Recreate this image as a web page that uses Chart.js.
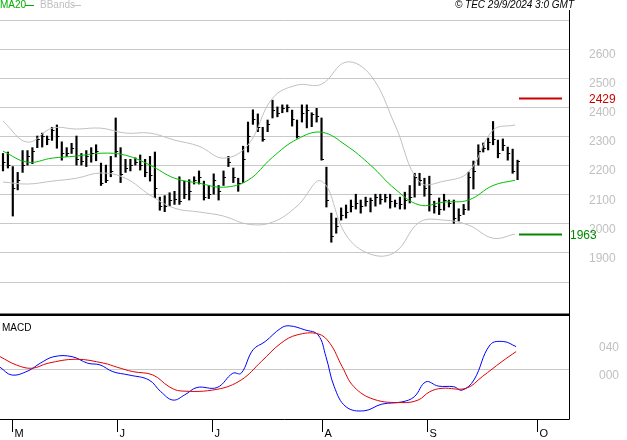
<!DOCTYPE html>
<html><head><meta charset="utf-8">
<script src="https://cdn.jsdelivr.net/npm/chart.js@4"></script>
<style>body{margin:0;background:#fff;width:627px;height:440px;overflow:hidden;position:relative}
#w1{position:absolute;left:0;top:0;width:627px;height:316px}
#w2{position:absolute;left:0;top:316px;width:627px;height:124px}</style>
</head><body>
<div id="w1"><canvas id="c1"></canvas></div>
<div id="w2"><canvas id="c2"></canvas></div>
<script>
const highs=[2240,2245,2195,2175,2250,2250,2260,2300,2310,2300,2330,2338,2280,2260,2275,2300,2240,2250,2260,2270,2207,2200,2230,2362,2260,2220,2220,2225,2235,2220,2230,2245,2090,2095,2105,2110,2160,2145,2150,2160,2180,2145,2130,2170,2130,2180,2230,2190,2155,2265,2348,2390,2376,2330,2355,2423,2400,2407,2407,2389,2355,2407,2407,2380,2395,2362,2193,2035,2018,2053,2063,2080,2100,2080,2090,2087,2100,2100,2100,2100,2080,2090,2107,2130,2172,2172,2155,2162,2076,2087,2100,2080,2080,2050,2065,2176,2214,2270,2276,2293,2350,2286,2290,2262,2255,2217];
const lows=[2180,2190,2025,2115,2175,2200,2205,2260,2262,2270,2285,2258,2217,2230,2240,2200,2200,2195,2210,2215,2130,2140,2160,2228,2140,2175,2180,2200,2183,2160,2145,2088,2045,2040,2060,2065,2065,2085,2080,2135,2135,2080,2085,2100,2080,2130,2195,2140,2110,2140,2245,2340,2315,2282,2315,2362,2366,2380,2383,2334,2293,2348,2328,2332,2348,2217,2056,1935,1966,2011,2018,2039,2049,2035,2059,2039,2059,2066,2073,2052,2056,2049,2049,2070,2090,2130,2093,2042,2035,2030,2045,2056,2000,2008,2030,2045,2118,2200,2245,2252,2270,2225,2250,2217,2172,2150];
const closes=[2210,2200,2120,2150,2200,2230,2250,2290,2300,2290,2320,2300,2240,2240,2260,2220,2215,2230,2240,2250,2140,2150,2180,2250,2170,2190,2200,2210,2200,2175,2165,2120,2060,2060,2080,2085,2075,2100,2110,2150,2160,2090,2100,2150,2110,2160,2210,2160,2140,2220,2300,2360,2330,2290,2340,2390,2380,2395,2400,2360,2300,2380,2390,2375,2370,2222,2080,1955,1990,2030,2040,2060,2070,2060,2075,2080,2090,2085,2090,2075,2070,2065,2080,2090,2160,2150,2120,2100,2060,2050,2080,2070,2020,2030,2050,2160,2180,2250,2260,2280,2290,2240,2270,2240,2180,2215];
const bandIdx=[0,5,10,15,20,25,30,35,40,45,50,55,60,65,70,75,80,85,90,95,100,104.5];
const ma20=[2248,2210,2224,2231,2241,2234,2200,2155,2138,2124,2148,2227,2289,2313,2268,2200,2118,2063,2073,2080,2130,2148];
const bbUpper=[2351,2279,2327,2324,2327,2310,2310,2286,2265,2224,2269,2430,2475,2478,2554,2509,2338,2142,2145,2176,2320,2338];
const bbLower=[2142,2135,2145,2155,2173,2155,2097,2052,2039,2025,1997,2004,2059,2145,1960,1894,1901,2004,2011,1994,1949,1963];
const macdIdx=[-0.6,1.8,5.1,7.6,10.4,14.1,17.3,19.8,22.4,25.7,29.8,32.2,34.7,37.1,39.6,43.7,46.9,48.6,51,53.5,56.7,58.4,61.6,64.3,65.9,67.6,70,73.7,77.3,81.4,83.9,86.3,88.8,92,93.7,96.1,99.4,102.2,104.7];
const macdVal=[2.9,-8.2,-2.4,8.6,18,18,8.6,6.2,-3.4,-8.2,-15.3,-32,-44,-36.5,-26,-26,-5.7,-5.7,27.6,39.5,58.6,62,56.2,49,18,-25,-53.6,-59.3,-49.8,-46.6,-39.4,-18,-24,-25,-29.8,-15.3,34.8,39.5,32.3];
const sigIdx=[-0.6,2.7,5.9,9.2,14.9,20.6,23.3,26.5,30.6,33.9,36.3,43.7,48.6,52.7,56.7,60,64.3,66.7,69.2,71.6,75.7,81.4,84.7,87.1,89.6,94.5,97.8,101.8,104.7];
const sigVal=[18,6.2,1.4,8.6,14.3,8.6,2.9,-3.4,-8.2,-24.9,-31,-28.6,-15.3,10.9,37.1,49,50.5,37.1,3.9,-24.9,-43,-47.6,-44,-32,-27.2,-27.2,-10.5,10.9,25.2];
const priceGrid=[1800,1900,2000,2100,2200,2300,2400,2500,2600,2700];
const priceLabels=[1900,2000,2100,2200,2300,2400,2500,2600];
const macdLabels=[{v:40,t:'040'},{v:0,t:'000'}];
const monthTickIdx=[1.84,23.3,42.7,65.1,86.5,109];
const monthNames=['M','J','J','A','S','O'];
const resistance=2429, support=1963;

const XMIN=-0.61, XMAX=115.5;
const F='"Liberation Sans", Arial, sans-serif';
const pts=(xs,ys)=>xs.map((x,i)=>({x:x,y:ys[i]}));

const mainPlugin={id:'mainp',
 beforeDatasetsDraw(ch){const c=ch.ctx,a=ch.chartArea,y=ch.scales.y;c.save();
  c.strokeStyle='#c8c8c8';c.lineWidth=1;
  priceGrid.forEach(v=>{const p=Math.round(y.getPixelForValue(v))+0.5;c.beginPath();c.moveTo(0,p);c.lineTo(a.right,p);c.stroke();});
  c.restore();},
 afterDatasetsDraw(ch){const c=ch.ctx,a=ch.chartArea,y=ch.scales.y,x=ch.scales.x;c.save();
  c.strokeStyle='#000';c.lineWidth=1;
  closes.forEach((v,i)=>{const px=x.getPixelForValue(i);const py=Math.round(y.getPixelForValue(v))+0.5;c.beginPath();c.moveTo(px,py);c.lineTo(px+2.5,py);c.stroke();});
  c.lineWidth=1;c.beginPath();c.moveTo(a.right+0.5,a.top);c.lineTo(a.right+0.5,316);c.stroke();
  c.lineWidth=3;c.beginPath();c.moveTo(0,315);c.lineTo(a.right+1,315);c.stroke();
  c.font='12px '+F;c.textBaseline='middle';c.textAlign='left';c.fillStyle='#c0c0c0';
  priceLabels.forEach(v=>{c.fillText(String(v),589,y.getPixelForValue(v)+6);});
  const ry=Math.round(y.getPixelForValue(resistance))+0.5, sy=Math.round(y.getPixelForValue(support))+0.5;
  c.lineWidth=2;c.strokeStyle='#cc0000';c.beginPath();c.moveTo(519,ry);c.lineTo(562,ry);c.stroke();
  c.strokeStyle='#008800';c.beginPath();c.moveTo(519,sy);c.lineTo(562,sy);c.stroke();
  c.fillStyle='#cc0000';c.fillText(String(resistance),589,ry+1);
  c.fillStyle='#008800';c.fillText(String(support),570,sy+1);
  c.font='10px '+F;c.fillStyle='#00b000';c.fillText('MA20',0,5);
  c.lineWidth=1;c.strokeStyle='#00b000';c.beginPath();c.moveTo(25,5.5);c.lineTo(34,5.5);c.stroke();
  c.fillStyle='#c0c0c0';c.fillText('BBands',40,5);c.strokeStyle='#c0c0c0';c.beginPath();c.moveTo(72,5.5);c.lineTo(81,5.5);c.stroke();
  c.fillStyle='#000';c.font='italic 10px '+F;c.textAlign='right';c.fillText('© TEC 29/9/2024 3:0 GMT',574,5);
  c.restore();}
};
new Chart(document.getElementById('c1'),{type:'bar',
 data:{datasets:[
  {type:'line',data:pts(bandIdx,bbUpper),borderColor:'#c0c0c0',borderWidth:1,pointRadius:0,tension:0.4},
  {type:'line',data:pts(bandIdx,bbLower),borderColor:'#c0c0c0',borderWidth:1,pointRadius:0,tension:0.4},
  {type:'line',data:pts(bandIdx,ma20),borderColor:'#00c000',borderWidth:1,pointRadius:0,tension:0.4},
  {type:'bar',data:highs.map((h,i)=>({x:i,y:[lows[i],h]})),backgroundColor:'#000',barThickness:1.5,borderWidth:0}
 ]},
 options:{responsive:true,maintainAspectRatio:false,animation:false,
  layout:{padding:{left:0,right:58,top:10,bottom:1}},
  plugins:{legend:{display:false},tooltip:{enabled:false}},
  scales:{x:{type:'linear',min:XMIN,max:XMAX,offset:false,display:false,grid:{offset:false}},y:{min:1685,max:2733,display:false}}},
 plugins:[mainPlugin]});

const macdPlugin={id:'macdp',
 beforeDatasetsDraw(ch){const c=ch.ctx,a=ch.chartArea,y=ch.scales.y;c.save();
  c.strokeStyle='#c8c8c8';c.lineWidth=1;const p=Math.round(y.getPixelForValue(0))+0.5;
  c.beginPath();c.moveTo(0,p);c.lineTo(a.right,p);c.stroke();c.restore();},
 afterDatasetsDraw(ch){const c=ch.ctx,a=ch.chartArea,y=ch.scales.y,x=ch.scales.x;c.save();
  c.strokeStyle='#000';c.lineWidth=1;
  c.beginPath();c.moveTo(a.right+0.5,0);c.lineTo(a.right+0.5,a.bottom+0.5);c.lineTo(0,a.bottom+0.5);c.stroke();
  c.font='10px '+F;c.fillStyle='#000';c.textBaseline='middle';c.textAlign='left';c.fillText('MACD',2,12);
  c.font='11px '+F;
  monthTickIdx.forEach((v,i)=>{const px=Math.round(x.getPixelForValue(v))+0.5;c.beginPath();c.moveTo(px,a.bottom);c.lineTo(px,a.bottom+13);c.stroke();
   c.fillText(monthNames[i],px+2,a.bottom+15);});
  c.fillStyle='#c0c0c0';c.font='12px '+F;
  macdLabels.forEach(o=>c.fillText(o.t,599,y.getPixelForValue(o.v)+6));
  c.restore();}
};
new Chart(document.getElementById('c2'),{type:'line',
 data:{datasets:[
  {data:pts(sigIdx,sigVal),borderColor:'#e00000',borderWidth:1,pointRadius:0,tension:0.4},
  {data:pts(macdIdx,macdVal),borderColor:'#0000ff',borderWidth:1,pointRadius:0,tension:0.4}
 ]},
 options:{responsive:true,maintainAspectRatio:false,animation:false,
  layout:{padding:{left:0,right:58,top:0,bottom:21}},
  plugins:{legend:{display:false},tooltip:{enabled:false}},
  scales:{x:{type:'linear',min:XMIN,max:XMAX,display:false},y:{min:-71,max:76,display:false}}},
 plugins:[macdPlugin]});
</script></body></html>
